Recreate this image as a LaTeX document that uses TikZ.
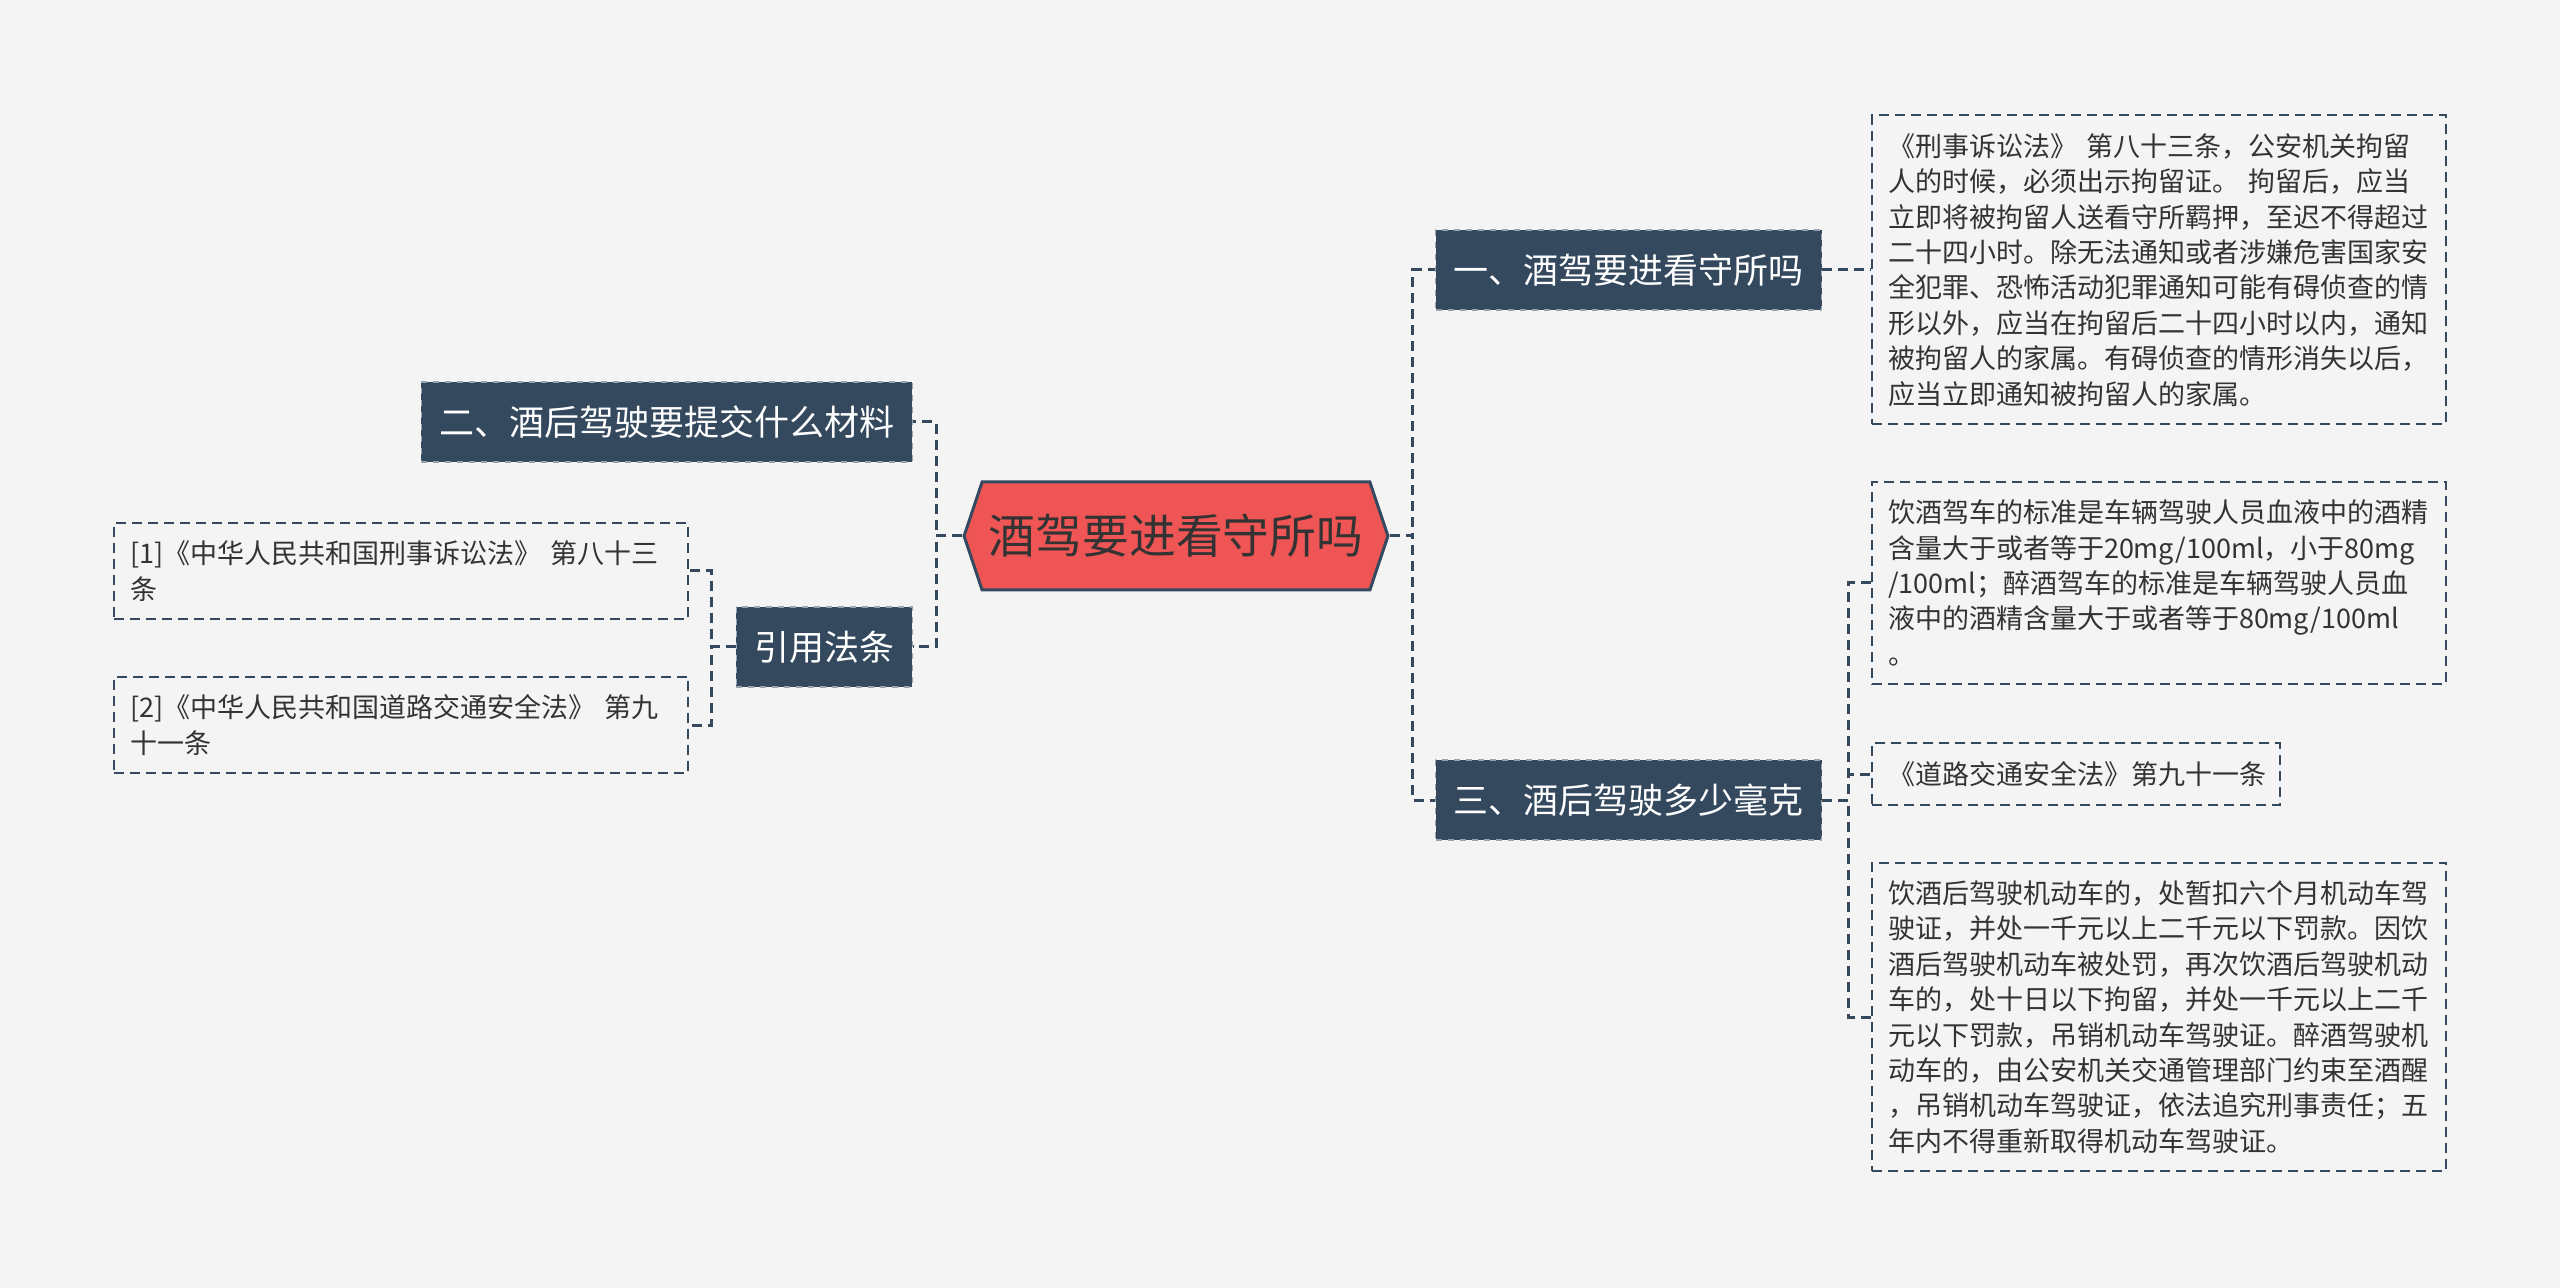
\documentclass[tikz,border=0pt]{standalone}
\usepackage{fontspec}
\setmainfont{Noto Sans CJK SC}
\usetikzlibrary{shapes.symbols,positioning}
\definecolor{navy}{HTML}{34495E}
\definecolor{hubred}{HTML}{EF5555}
\definecolor{paper}{HTML}{F4F4F5}
\definecolor{ink}{HTML}{333333}
\tikzset{
  topic/.style={signal,signal to=west and east,signal pointer angle=143,
    draw=navy,line width=1.5pt,fill=hubred,text=ink,
    minimum width=210pt,minimum height=54pt,
    font=\fontsize{23.4pt}{28pt}\selectfont},
  branch/.style={draw=navy!50!white,dashed,line width=0.6pt,fill=navy,
    text=white,minimum height=40pt,inner xsep=9pt,
    font=\fontsize{17.5pt}{21pt}\selectfont},
  leaf/.style={draw=navy,line width=1pt,dash pattern=on 5pt off 3pt,
    text=ink,text width=271pt,align=left,inner xsep=8pt,inner ysep=9pt,
    font=\fontsize{13.5pt}{17.7pt}\selectfont},
  link/.style={draw=navy,line width=1.5pt,dash pattern=on 5pt off 3pt},
}
\begin{document}
\begin{tikzpicture}[x=0.5pt,y=-0.5pt]
  \fill[paper] (0,0) rectangle (2560,1288);
  \useasboundingbox (0,0) rectangle (2560,1288);

  \node[topic] (hub) at (1176,536) {酒驾要进看守所吗};

  \node[branch,anchor=west] (jail) at (1435,270) {一、酒驾要进看守所吗};
  \node[branch,anchor=west] (limit) at (1435,800) {三、酒后驾驶多少毫克};
  \node[branch,anchor=east] (papers) at (913,422) {二、酒后驾驶要提交什么材料};
  \node[branch,anchor=east] (cite) at (913,647) {引用法条};

  \node[leaf,anchor=west] (detain) at (1871,270)
    {《刑事诉讼法》 第八十三条，公安机关拘留\\人的时候，必须出示拘留证。 拘留后，应当\\立即将被拘留人送看守所羁押，至迟不得超过\\二十四小时。除无法通知或者涉嫌危害国家安\\全犯罪、恐怖活动犯罪通知可能有碍侦查的情\\形以外，应当在拘留后二十四小时以内，通知\\被拘留人的家属。有碍侦查的情形消失以后，\\应当立即通知被拘留人的家属。};
  \node[leaf,anchor=west] (standard) at (1871,583)
    {饮酒驾车的标准是车辆驾驶人员血液中的酒精\\含量大于或者等于20mg/100ml，小于80mg\\/100ml；醉酒驾车的标准是车辆驾驶人员血\\液中的酒精含量大于或者等于80mg/100ml\\。};
  \node[leaf,anchor=west,text width=188pt] (roadlaw) at (1871,774)
    {《道路交通安全法》第九十一条};
  \node[leaf,anchor=west] (penalty) at (1871,1017)
    {饮酒后驾驶机动车的，处暂扣六个月机动车驾\\驶证，并处一千元以上二千元以下罚款。因饮\\酒后驾驶机动车被处罚，再次饮酒后驾驶机动\\车的，处十日以下拘留，并处一千元以上二千\\元以下罚款，吊销机动车驾驶证。醉酒驾驶机\\动车的，由公安机关交通管理部门约束至酒醒\\，吊销机动车驾驶证，依法追究刑事责任；五\\年内不得重新取得机动车驾驶证。};
  \node[leaf,anchor=east] (ref1) at (689,571)
    {[1]《中华人民共和国刑事诉讼法》 第八十三\\条};
  \node[leaf,anchor=east] (ref2) at (689,725)
    {[2]《中华人民共和国道路交通安全法》 第九\\十一条};

  % hub to branches
  \draw[link] (hub.east) -- ++(23,0) |- (jail.west);
  \draw[link] (hub.east) -- ++(23,0) |- (limit.west);
  \draw[link] (hub.west) -- ++(-26,0) |- (papers.east);
  \draw[link] (hub.west) -- ++(-26,0) |- (cite.east);

  % branches to notes
  \draw[link] (jail.east) -- (detain.west);
  \draw[link] (limit.east) -- ++(26,0) |- (standard.west);
  \draw[link] (limit.east) -- ++(26,0) |- (roadlaw.west);
  \draw[link] (limit.east) -- ++(26,0) |- (penalty.west);
  \draw[link] (cite.west) -- ++(-24,0) |- (ref1.east);
  \draw[link] (cite.west) -- ++(-24,0) |- (ref2.east);
\end{tikzpicture}
\end{document}
